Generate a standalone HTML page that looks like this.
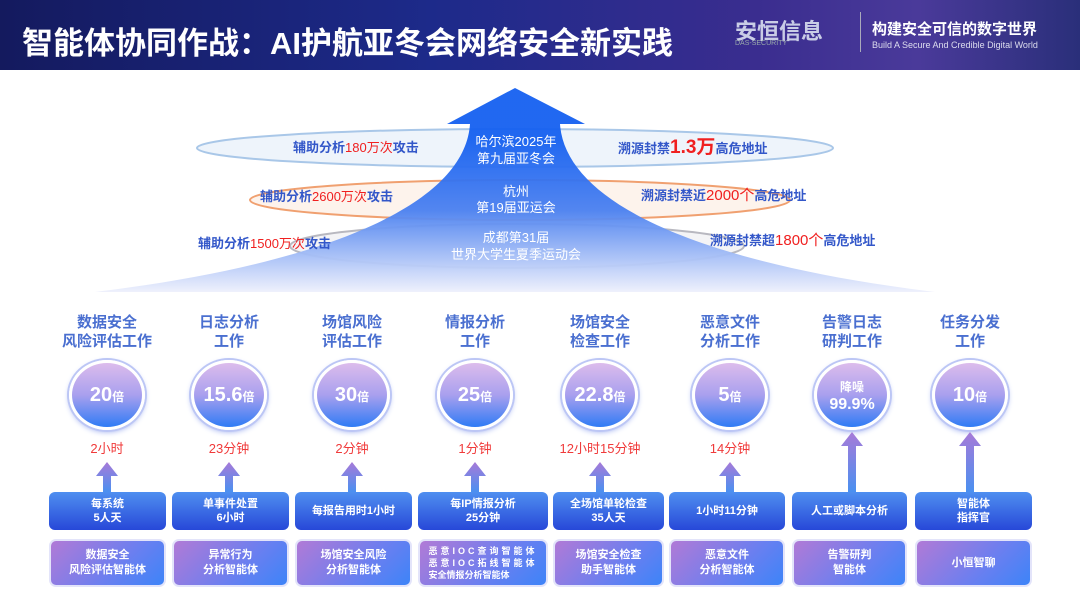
<!DOCTYPE html>
<html><head><meta charset="utf-8"><style>
*{margin:0;padding:0;box-sizing:border-box}
body{width:1080px;height:608px;overflow:hidden;background:#fff;font-family:"Liberation Sans","Noto Sans CJK SC",sans-serif;position:relative}
.hdr{position:absolute;left:0;top:0;width:1080px;height:70px;background:linear-gradient(90deg,#141a5e 0%,#1d2a8a 40%,#3a2d8f 70%,#4a3a9a 85%,#2a2f7a 100%)}
.hdr .t{position:absolute;left:22px;top:18px;color:#fff;font-size:31px;font-weight:bold;letter-spacing:0px}
.abs{position:absolute}
.ttl{position:absolute;width:130px;text-align:center;font-size:15px;line-height:19px;color:#4a6fd0;font-weight:bold}
.circ{position:absolute;width:76px;height:70px;border-radius:50%;background:linear-gradient(180deg,#dcbcec 0%,#a9a0ee 50%,#2f7bf5 100%);border:3px solid #fff;box-shadow:0 0 0 2px #bcc6f5,0 2px 6px #a0b0f0;color:#fff;font-weight:bold;text-align:center;line-height:64px;font-size:20px}
.circ small{font-size:12px}
.red{position:absolute;width:120px;text-align:center;color:#f03a3a;font-size:13px}
.b1{position:absolute;height:38px;border-radius:6px;background:linear-gradient(180deg,#4f8ff0,#2748d8);color:#fff;font-size:11px;font-weight:bold;text-align:center;display:flex;align-items:center;justify-content:center;line-height:14px}
.b2{position:absolute;height:48px;border-radius:7px;background:linear-gradient(135deg,#b17ad6,#6a7ff0 60%,#3d84f8);color:#fff;font-size:11px;font-weight:bold;text-align:center;display:flex;align-items:center;justify-content:center;line-height:15px;border:2px solid #e3e4fa}
.lbl{position:absolute;font-size:13px;color:#3357c9;font-weight:bold;white-space:nowrap}
.lbl b{color:#f02020;font-weight:normal}
</style></head><body>
<div class="hdr"><div class="t">智能体协同作战：AI护航亚冬会网络安全新实践</div>
<div class="abs" style="left:735px;top:14px;color:#c9cde6;font-size:22px;font-weight:bold">安恒信息</div>
<div class="abs" style="left:735px;top:40px;color:#9aa;font-size:7px">DAS-SECURITY</div>
<div class="abs" style="left:860px;top:12px;width:1px;height:40px;background:#aab"></div>
<div class="abs" style="left:872px;top:18px;color:#fff;font-size:15px;font-weight:bold">构建安全可信的数字世界</div>
<div class="abs" style="left:872px;top:40px;color:#dde;font-size:9px">Build A Secure And Credible Digital World</div>
</div>
<svg class="abs" style="left:0;top:0" width="1080" height="300">
<defs>
<linearGradient id="ag" x1="0" y1="0" x2="0" y2="1"><stop offset="0.25" stop-color="#1560f0"/><stop offset="0.6" stop-color="#4a80f0"/><stop offset="1" stop-color="#eef0fc"/></linearGradient>
</defs>
<ellipse cx="515" cy="148" rx="318" ry="19" fill="#eef4fb" stroke="#a9c7e8" stroke-width="2"/>
<ellipse cx="520" cy="200" rx="270" ry="20" fill="#fdf3ec" stroke="#f0a070" stroke-width="2"/>
<ellipse cx="517" cy="246" rx="227" ry="22" fill="#f4f4f6" stroke="#b8b8c0" stroke-width="2"/>
<path d="M515 88 L585 124 L560 124 C565 200 690 262 935 292 L95 292 C340 262 465 200 470 124 L447 124 Z" fill="url(#ag)" opacity="0.95"/>
<g font-size="13" fill="#fff" text-anchor="middle" font-family="Liberation Sans,Noto Sans CJK SC,sans-serif">
<text x="516" y="146">哈尔滨2025年</text><text x="516" y="163">第九届亚冬会</text>
<text x="516" y="196">杭州</text><text x="516" y="212">第19届亚运会</text>
<text x="516" y="242">成都第31届</text><text x="516" y="259">世界大学生夏季运动会</text>
</g>
</svg>
<div class="lbl" style="left:293px;top:137px">辅助分析<b>180万次</b>攻击</div>
<div class="lbl" style="left:618px;top:132px">溯源封禁<b style="font-size:19px;font-weight:bold">1.3万</b>高危地址</div>
<div class="lbl" style="left:260px;top:186px">辅助分析<b>2600万次</b>攻击</div>
<div class="lbl" style="left:641px;top:184px">溯源封禁近<b style="font-size:15px">2000个</b>高危地址</div>
<div class="lbl" style="left:198px;top:233px">辅助分析<b>1500万次</b>攻击</div>
<div class="lbl" style="left:710px;top:229px">溯源封禁超<b style="font-size:15px">1800个</b>高危地址</div>
<div id="cols"></div>
<script>
(function(){
var cx=[107,229,352,475,600,730,852,970];
var tt=["数据安全<br>风险评估工作","日志分析<br>工作","场馆风险<br>评估工作","情报分析<br>工作","场馆安全<br>检查工作","恶意文件<br>分析工作","告警日志<br>研判工作","任务分发<br>工作"];
var cv=["20<small>倍</small>","15.6<small>倍</small>","30<small>倍</small>","25<small>倍</small>","22.8<small>倍</small>","5<small>倍</small>","<div style='line-height:16px;padding-top:14px'><small>降噪</small><br><span style='font-size:16px'>99.9%</span></div>","10<small>倍</small>"];
var rd=["2小时","23分钟","2分钟","1分钟","12小时15分钟","14分钟","",""];
var bx=[[49,166],[172,289],[295,412],[418,548],[553,664],[669,785],[792,907],[915,1032]];
var b1=["每系统<br>5人天","单事件处置<br>6小时","每报告用时1小时","每IP情报分析<br>25分钟","全场馆单轮检查<br>35人天","1小时11分钟","人工或脚本分析","智能体<br>指挥官"];
var b2=["数据安全<br>风险评估智能体","异常行为<br>分析智能体","场馆安全风险<br>分析智能体","<div style='font-size:9px;line-height:12px;text-align:left;letter-spacing:3px'>恶意IOC查询智能体<br>恶意IOC拓线智能体<br><span style='letter-spacing:0'>安全情报分析智能体</span></div>","场馆安全检查<br>助手智能体","恶意文件<br>分析智能体","告警研判<br>智能体","小恒智聊"];
var h="";
for(var i=0;i<8;i++){var c=cx[i];
h+='<div class="ttl" style="left:'+(c-65)+'px;top:313px">'+tt[i]+'</div>';
h+='<div class="circ" style="left:'+(c-38)+'px;top:360px">'+cv[i]+'</div>';
if(rd[i])h+='<div class="red" style="left:'+(c-60)+'px;top:438px">'+rd[i]+'</div>';
var ty=(i>=6)?432:462, hh=(i>=6)?60:30;
h+='<svg class="abs" style="left:'+(c-12)+'px;top:'+ty+'px" width="24" height="'+hh+'"><defs><linearGradient id="g'+i+'" x1="0" y1="0" x2="0" y2="1"><stop offset="0" stop-color="#a77ad8"/><stop offset="1" stop-color="#4a90f0"/></linearGradient></defs><path d="M12 0 L23 14 L16 14 L16 '+hh+' L8 '+hh+' L8 14 L1 14Z" fill="url(#g'+i+')"/></svg>';
h+='<div class="b1" style="left:'+bx[i][0]+'px;top:492px;width:'+(bx[i][1]-bx[i][0])+'px">'+b1[i]+'</div>';
h+='<div class="b2" style="left:'+bx[i][0]+'px;top:539px;width:'+(bx[i][1]-bx[i][0])+'px">'+b2[i]+'</div>';
}
document.getElementById('cols').innerHTML=h;
})();
</script>
</body></html>
